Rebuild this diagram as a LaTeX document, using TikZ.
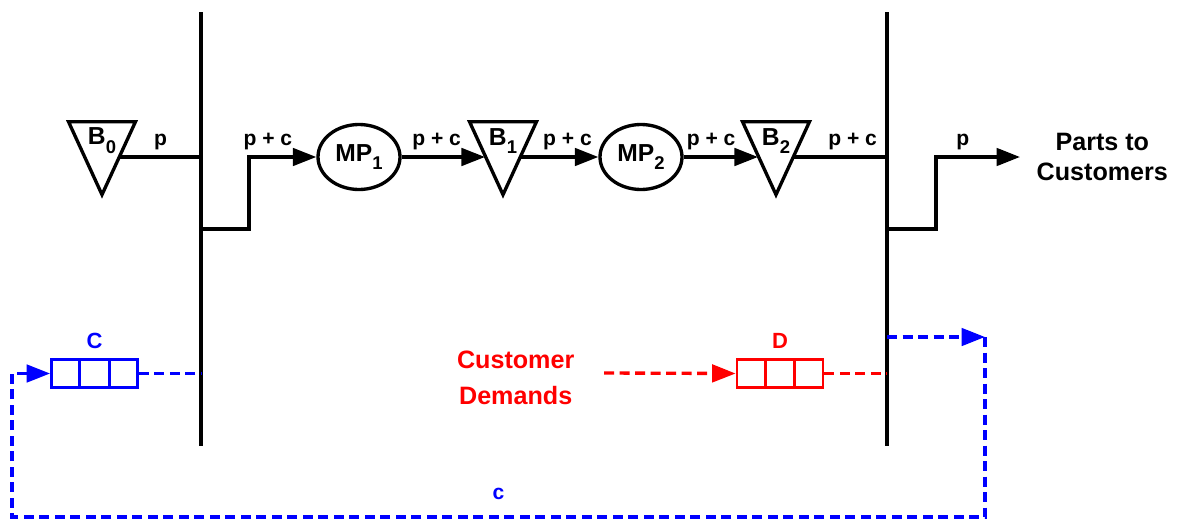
\documentclass[tikz,border=0pt]{standalone}
\usepackage{fontspec}
\setmainfont{Liberation Sans}
\usetikzlibrary{arrows.meta,positioning,shapes.geometric,shapes.multipart}
\definecolor{ctrlblue}{HTML}{0000FF}
\definecolor{demred}{HTML}{FF0000}
\newcommand{\lowsub}[1]{\raisebox{-5pt}{\fontsize{10.5}{11}\selectfont #1}}

\begin{document}
\begin{tikzpicture}[font=\bfseries,line width=1.9pt,
  tip/.style={-{Triangle[length=4.7mm,width=3.5mm]}},
  buf/.style={draw,isosceles triangle,isosceles triangle stretches,shape border rotate=270,minimum width=1.34cm,minimum height=1.46cm,inner sep=0pt,anchor=north},
  bname/.style={font=\fontsize{14}{16}\selectfont\bfseries,inner sep=0pt},
  mp/.style={draw,ellipse,minimum width=1.64cm,minimum height=1.3cm,inner sep=0pt,font=\fontsize{14}{16}\selectfont\bfseries},
  lbl/.style={font=\fontsize{12}{14}\selectfont\bfseries},
  queue/.style={draw,line width=1.6pt,rectangle split,rectangle split horizontal,rectangle split parts=3,rectangle split empty part width=0.35cm,rectangle split empty part height=0.56cm,rectangle split empty part depth=0pt,inner sep=0pt},
  qname/.style={font=\fontsize{12.5}{14}\selectfont\bfseries},
  ctrlline/.style={draw=ctrlblue,dash pattern=on 2mm off 1.1mm},
  demline/.style={draw=demred,dash pattern=on 2mm off 1.1mm}]
\useasboundingbox (0,0) rectangle (23.56,10.38);
% the two bars
\coordinate (S1t) at (4.02,10.14); \coordinate (S1b) at (4.02,1.46);
\coordinate (S2t) at (17.74,10.14); \coordinate (S2b) at (17.74,1.46);
\draw (S1t) -- (S1b);
\draw (S2t) -- (S2b);
% buffers and machines
\foreach \n/\x/\i in {B0/2.04/0,B1/10.06/1,B2/15.52/2}{
  \node[buf] (\n) at (\x,7.98) {};
  \node[bname] (\n l) at (\x,7.56) {B\lowsub{\i}};}
\node[mp] (MP1) at (7.18,7.24) {MP\lowsub{1}};
\node[mp] (MP2) at (12.82,7.24) {MP\lowsub{2}};
\coordinate (J1) at (4.98,5.8);
\coordinate (J2) at (18.72,5.8);
\coordinate (outTip) at (20.4,7.24);
\node[font=\fontsize{14.3}{16.8}\selectfont\bfseries,align=center,inner sep=0pt,right=0.3cm of outTip] (parts) {Parts to\\Customers};
\draw (MP1 -| B0.left side) -- node[lbl,above]{p} (MP1 -| S1t);
\draw[tip] (J1 -| S1b) -- (J1) |- node[lbl,above,pos=0.64]{p + c} (MP1.west);
\draw[tip] (MP1) -- node[lbl,above,pos=0.42]{p + c} (MP1 -| B1.right side);
\draw[tip] (MP2 -| B1.left side) -- node[lbl,above,pos=0.6]{p + c} (MP2);
\draw[tip] (MP2) -- node[lbl,above,pos=0.37]{p + c} (MP2 -| B2.right side);
\draw (MP2 -| B2.left side) -- node[lbl,above,pos=0.63]{p + c} (MP2 -| S2t);
\draw[tip] (J2 -| S2b) -- (J2) |- node[lbl,above,pos=0.66]{p} (outTip);
% queues
\node[queue,draw=ctrlblue] (C) at (1.89,2.91) {};
\node[qname,text=ctrlblue,above=1pt of C] (Cl) {C};
\node[queue,draw=demred] (D) at (15.6,2.91) {};
\node[qname,text=demred,above=1pt of D] (Dl) {D};
\coordinate (demStart) at (12.08,2.92);
\node[font=\fontsize{14.3}{20.2}\selectfont\bfseries,text=demred,align=center,inner sep=0pt,left=0.56cm of demStart,yshift=-0.1cm] (cust) {Customer\\Demands};
\draw[demline,tip] (demStart) -- (D.west);
\draw[demline] (D.east) -- (D.east -| S2t);
\draw[ctrlline] (C.east) -- (C.east -| S1t);
\coordinate (loopR) at (19.7,3.64);
\coordinate (loopB) at (0.24,0.04);
\draw[ctrlline,tip] (loopR -| S2t) -- (loopR);
\draw[ctrlline,tip] (loopR) |- node[lbl,text=ctrlblue,above=0.2cm,pos=0.75]{c} (loopB) |- (C.west);
\end{tikzpicture}
\end{document}
